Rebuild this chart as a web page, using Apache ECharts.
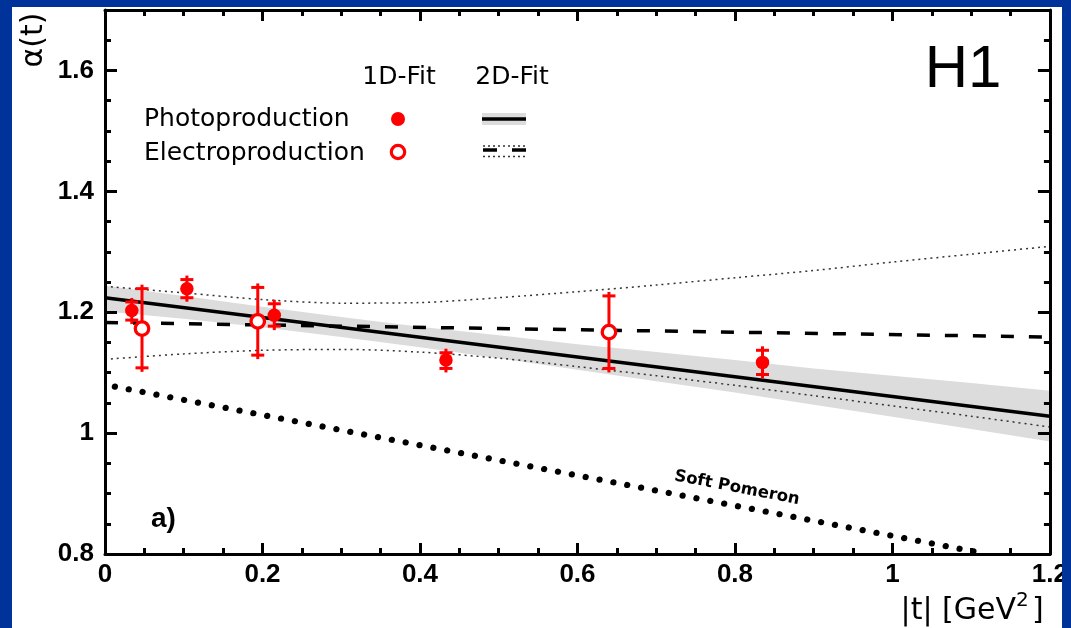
<!DOCTYPE html>
<html><head><meta charset="utf-8">
<script src="https://cdn.jsdelivr.net/npm/echarts@6/dist/echarts.min.js"></script>
<style>html,body{margin:0;padding:0;background:#fff}#c{width:1071px;height:628px}</style>
</head><body><div id="c"></div><script>
// ---- data ----
const photoT  = [0.034, 0.104, 0.215, 0.433, 0.835];
const photoA  = [1.203, 1.239, 1.195, 1.121, 1.117];
const photoLo = [1.187, 1.224, 1.177, 1.107, 1.097];
const photoHi = [1.217, 1.254, 1.214, 1.133, 1.137];

const electroT  = [0.047, 0.194, 0.640];
const electroA  = [1.173, 1.185, 1.167];
const electroLo = [1.108, 1.129, 1.107];
const electroHi = [1.239, 1.241, 1.227];

const fitT       = [0, 1.2];
const photoFit   = [1.224, 1.028];
const electroFit = [1.183, 1.159];

const bandT         = [0, 0.1, 0.2, 0.3, 0.4, 0.5, 0.6, 0.7, 0.8, 0.9, 1.0, 1.1, 1.2];
const photoBandLo   = [1.201, 1.189, 1.175, 1.159, 1.142, 1.124, 1.105, 1.086, 1.067, 1.047, 1.027, 1.007, 0.986];
const photoBandHi   = [1.244, 1.227, 1.209, 1.192, 1.176, 1.162, 1.147, 1.134, 1.121, 1.107, 1.095, 1.083, 1.070];
const electroBandLo = [1.122, 1.131, 1.137, 1.1385, 1.134, 1.124, 1.110, 1.095, 1.079, 1.062, 1.045, 1.028, 1.010];
const electroBandHi = [1.243, 1.232, 1.221, 1.215, 1.216, 1.224, 1.234, 1.245, 1.257, 1.269, 1.283, 1.296, 1.309];

const softT = [0, 1.12];
const softA = [1.08, 0.80];

const xTickValues = [0, 0.2, 0.4, 0.6, 0.8, 1, 1.2];
const xTickLabels = ['0', '0.2', '0.4', '0.6', '0.8', '1', '1.2'];
const yTickValues = [0.8, 1, 1.2, 1.4, 1.6];
const yTickLabels = ['0.8', '1', '1.2', '1.4', '1.6'];

// ---- chart ----
const FONT = '"Liberation Sans", Arial, sans-serif';
const FONT2 = '"DejaVu Sans", sans-serif';
const chart = echarts.init(document.getElementById('c'), null, {renderer: 'canvas'});

function lookup(vals, labels) {
  return function (v) {
    const r = Math.round(v * 1000) / 1000;
    for (let i = 0; i < vals.length; i++) if (Math.abs(vals[i] - r) < 1e-6) return labels[i];
    return '';
  };
}
const black = '#000';
const tickStyle = {color: black, width: 3};

function xAxisDef(pos, showLabel) {
  return {
    type: 'value', min: 0, max: 1.2, interval: 0.2, position: pos, z: 10,
    axisLine: {show: true, onZero: false, lineStyle: {color: black, width: 3}},
    axisTick: {show: true, inside: true, length: 11, lineStyle: tickStyle},
    minorTick: {show: true, splitNumber: 4, length: 6, lineStyle: tickStyle},
    splitLine: {show: false}, minorSplitLine: {show: false},
    axisLabel: {show: showLabel, fontSize: 26, fontWeight: 'bold', color: black, fontFamily: FONT,
      margin: 8, formatter: lookup(xTickValues, xTickLabels), showMinLabel: true, showMaxLabel: true}
  };
}
function yAxisDef(pos, major, showLabel) {
  return {
    type: 'value', min: 0.8, max: 1.7, interval: major ? 0.2 : 0.05, position: pos, z: 10,
    axisLine: {show: major, onZero: false, lineStyle: {color: black, width: 3}},
    axisTick: {show: true, inside: true, length: major ? 12 : 6, lineStyle: tickStyle},
    splitLine: {show: false},
    axisLabel: {show: showLabel, fontSize: 26, fontWeight: 'bold', color: black, fontFamily: FONT,
      margin: 11, formatter: lookup(yTickValues, yTickLabels)}
  };
}

const pts = (xs, ys) => xs.map((x, i) => [x, ys[i]]);

function bandRenderer(lo, hi, fill) {
  return function (params, api) {
    if (params.dataIndex !== 0) return;
    const up = bandT.map((t, i) => api.coord([t, hi[i]]));
    const dn = bandT.map((t, i) => api.coord([t, lo[i]])).reverse();
    return {type: 'polygon', shape: {points: up.concat(dn)}, style: {fill: fill}};
  };
}
function errRenderer(color) {
  return function (params, api) {
    const t = api.value(0), lo = api.value(1), hi = api.value(2);
    const a = api.coord([t, hi]), b = api.coord([t, lo]);
    const x = a[0], w = 6.5, ext = 4;
    const st = {stroke: color, lineWidth: 3};
    return {type: 'group', children: [
      {type: 'line', shape: {x1: x, y1: a[1] - ext, x2: x, y2: b[1] + ext}, style: st},
      {type: 'line', shape: {x1: x - w, y1: a[1], x2: x + w, y2: a[1]}, style: st},
      {type: 'line', shape: {x1: x - w, y1: b[1], x2: x + w, y2: b[1]}, style: st}
    ]};
  };
}

const bandRows = bandT.map((t, i) => [t, photoBandLo[i], photoBandHi[i]]);
const dotted = {color: '#333', width: 1.5, type: [2, 4]};

const series = [
  {type: 'custom', z: 1, silent: true, renderItem: bandRenderer(photoBandLo, photoBandHi, '#dcdcdc'),
   data: bandRows, encode: {x: 0, y: [1, 2]}},
  {type: 'line', z: 2, data: pts(bandT, electroBandHi), smooth: 0.3, symbol: 'none', lineStyle: dotted},
  {type: 'line', z: 2, data: pts(bandT, electroBandLo), smooth: 0.3, symbol: 'none', lineStyle: dotted},
  {type: 'line', z: 3, data: pts(fitT, photoFit), symbol: 'none', lineStyle: {color: black, width: 3.5}},
  {type: 'line', z: 3, data: pts(fitT, electroFit), symbol: 'none', lineStyle: {color: black, width: 3.5, type: [13, 15]}},
  {type: 'line', z: 3, data: pts(softT, softA), symbol: 'none',
   lineStyle: {color: black, width: 6.2, type: [0.1, 14], cap: 'round', dashOffset: -10}},
  {type: 'custom', z: 4, renderItem: errRenderer('#ff0000'),
   data: photoT.map((t, i) => [t, photoLo[i], photoHi[i]]), encode: {x: 0, y: [1, 2]}},
  {type: 'custom', z: 4, renderItem: errRenderer('#ff0000'),
   data: electroT.map((t, i) => [t, electroLo[i], electroHi[i]]), encode: {x: 0, y: [1, 2]}},
  {type: 'scatter', z: 5, data: pts(photoT, photoA), symbol: 'circle', symbolSize: 13.5,
   itemStyle: {color: '#ff0000', opacity: 1}},
  {type: 'scatter', z: 5, data: pts(electroT, electroA), symbol: 'circle', symbolSize: 13.5,
   itemStyle: {color: '#ffffff', borderColor: '#ff0000', borderWidth: 3.3, opacity: 1}}
];
series.forEach(s => { s.xAxisIndex = 0; s.yAxisIndex = 0; s.animation = false; });

const txt = (o) => ({type: 'text', z: 100, silent: true, ...o});
const graphic = [
  // texts
  txt({x: 34, y: 40, rotation: Math.PI / 2, style: {text: 'α(t)', fontSize: 30, fontFamily: FONT2, fill: black, align: 'center', verticalAlign: 'middle'}}),
  txt({x: 963, y: 70, style: {text: 'H1', fontSize: 60, fontFamily: FONT, fill: black, align: 'center', verticalAlign: 'middle'}}),
  txt({x: 151, y: 519, style: {text: 'a)', fontSize: 28, fontWeight: 'bold', fontFamily: FONT, fill: black, align: 'left', verticalAlign: 'middle'}}),
  txt({x: 399, y: 77, style: {text: '1D-Fit', fontSize: 25, fontFamily: FONT2, fill: black, align: 'center', verticalAlign: 'middle'}}),
  txt({x: 512, y: 77, style: {text: '2D-Fit', fontSize: 25, fontFamily: FONT2, fill: black, align: 'center', verticalAlign: 'middle'}}),
  txt({x: 144, y: 119, style: {text: 'Photoproduction', fontSize: 25, fontFamily: FONT2, fill: black, align: 'left', verticalAlign: 'middle'}}),
  txt({x: 144, y: 153, style: {text: 'Electroproduction', fontSize: 25, fontFamily: FONT2, fill: black, align: 'left', verticalAlign: 'middle'}}),
  txt({x: 737, y: 488, rotation: -0.19, style: {text: 'Soft Pomeron', fontSize: 16.5, fontWeight: 'bold', fontFamily: FONT2, fill: black, align: 'center', verticalAlign: 'middle'}}),
  txt({x: 1016, y: 611, style: {text: '|t| [GeV', fontSize: 30, fontFamily: FONT2, fill: black, align: 'right', verticalAlign: 'middle'}}),
  txt({x: 1016, y: 601, style: {text: '2', fontSize: 20, fontFamily: FONT2, fill: black, align: 'left', verticalAlign: 'middle'}}),
  txt({x: 1032, y: 611, style: {text: ']', fontSize: 30, fontFamily: FONT2, fill: black, align: 'left', verticalAlign: 'middle'}}),
  // legend symbols
  {type: 'circle', z: 100, shape: {cx: 398, cy: 119, r: 7}, style: {fill: '#ff0000'}},
  {type: 'circle', z: 100, shape: {cx: 398, cy: 152, r: 6.7}, style: {fill: '#fff', stroke: '#ff0000', lineWidth: 3.2}},
  {type: 'rect', z: 100, shape: {x: 482, y: 113, width: 44, height: 12}, style: {fill: '#dcdcdc'}},
  {type: 'line', z: 101, shape: {x1: 482, y1: 119, x2: 526, y2: 119}, style: {stroke: black, lineWidth: 3.5}},
  {type: 'line', z: 101, shape: {x1: 483, y1: 150, x2: 526, y2: 150}, style: {stroke: black, lineWidth: 3.5, lineDash: [14, 15]}},
  {type: 'line', z: 101, shape: {x1: 483, y1: 146, x2: 526, y2: 146}, style: {stroke: '#333', lineWidth: 1.3, lineDash: [2, 3]}},
  {type: 'line', z: 101, shape: {x1: 483, y1: 156.5, x2: 526, y2: 156.5}, style: {stroke: '#333', lineWidth: 1.3, lineDash: [2, 3]}},
  // blue frame
  {type: 'rect', z: 200, shape: {x: 0, y: 0, width: 12, height: 628}, style: {fill: '#003399'}},
  {type: 'rect', z: 200, shape: {x: 0, y: 0, width: 1071, height: 7}, style: {fill: '#003399'}},
  {type: 'rect', z: 200, shape: {x: 1062, y: 0, width: 9, height: 628}, style: {fill: '#003399'}}
];

chart.setOption({
  animation: false,
  backgroundColor: '#ffffff',
  grid: {left: 105, right: 21, top: 10, bottom: 74, containLabel: false},
  xAxis: [xAxisDef('bottom', true), xAxisDef('top', false)],
  yAxis: [yAxisDef('left', true, true), yAxisDef('left', false, false),
          yAxisDef('right', true, false), yAxisDef('right', false, false)],
  series: series,
  graphic: graphic
});
</script></body></html>
